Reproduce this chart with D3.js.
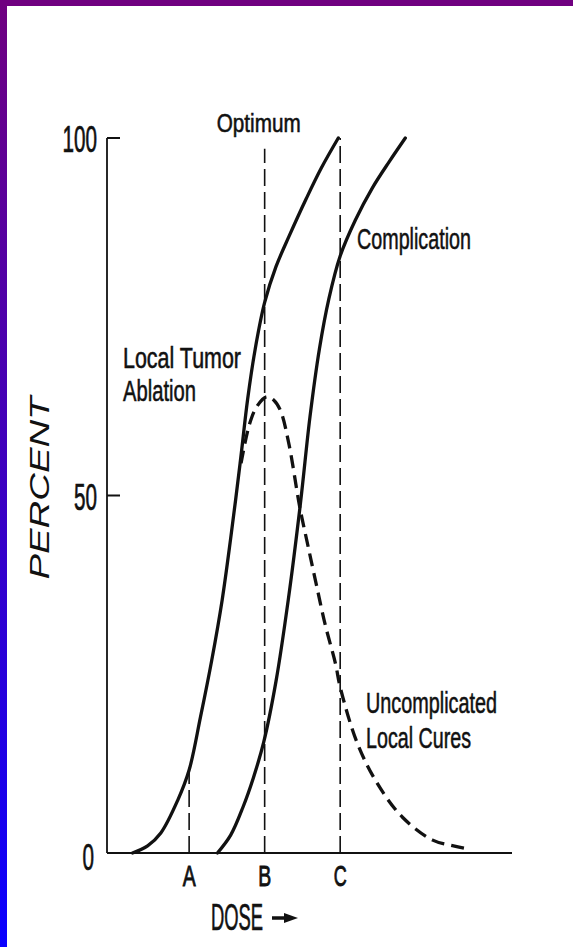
<!DOCTYPE html>
<html><head><meta charset="utf-8">
<script src="https://cdn.jsdelivr.net/npm/d3@7"></script>
<style>html,body{margin:0;padding:0;background:#fff;overflow:hidden}</style>
</head><body><svg id="c" width="573" height="947"></svg>
<script>
// ---- data ----
const percentTicks = [0, 50, 100];
const doseLabels = ["A", "B", "C"];
const doseMarks = [4, 8, 12];
const guideTops = [11.6, 98.5, 100];
const localTumorAblation = [[1.0,0],[1.8,1],[2.5,2.8],[3.4,7.4],[4.0,11.6],[4.6,19],[5.2,27],[5.75,35.4],[6.2,44],[6.7,54.5],[7.1,63.5],[7.5,70.5],[8.0,77],[8.6,82],[9.3,86.3],[10.2,91.5],[11.0,95.8],[11.9,100]];
const complication = [[5.5,0],[6.2,2.5],[6.85,6.4],[7.4,10.5],[7.95,15.5],[8.6,24],[9.25,35.4],[9.9,49],[10.4,61],[10.9,70.5],[11.4,77.5],[12.0,83.5],[12.8,88.5],[13.7,93],[14.6,96.7],[15.45,100]];
const uncomplicatedCures = [[6.75,54.5],[7.2,60],[7.6,62.5],[8.1,63.8],[8.5,63.3],[8.85,61.8],[9.3,57],[9.85,48.5],[10.25,43.5],[10.7,38],[11.2,32],[11.75,26.5],[12.0,23.2],[12.9,15.4],[13.95,9.8],[15.3,5],[16.9,1.8],[18.0,1.0],[18.7,0.6]];

const svg = d3.select("#c");
const defs = svg.append("defs");
const g = defs.append("linearGradient").attr("id","lb").attr("x1",0).attr("y1",0).attr("x2",0).attr("y2",1);
g.append("stop").attr("offset","0%").attr("stop-color","#700080");
g.append("stop").attr("offset","100%").attr("stop-color","#0a00ff");
svg.append("rect").attr("x",0).attr("y",0).attr("width",7).attr("height",947).attr("fill","url(#lb)");
svg.append("rect").attr("x",0).attr("y",0).attr("width",573).attr("height",6).attr("fill","#700080");

const x = d3.scaleLinear().domain([-0.35, 21.1]).range([107, 512]);
const y = d3.scaleLinear().domain([0, 100]).range([853, 138]);

const FONT = "'Liberation Sans', Arial, sans-serif";
function txt(s, px, py, fs, len, anchor, sw) {
  return svg.append("text").attr("x", px).attr("y", py)
    .attr("font-family", FONT).attr("font-size", fs).attr("fill", "#111")
    .attr("stroke", "#111").attr("stroke-width", sw || 0.55)
    .attr("text-anchor", anchor || "start")
    .attr("textLength", len).attr("lengthAdjust", "spacingAndGlyphs").text(s);
}

// axes
const ax = svg.append("g").attr("stroke", "#111").attr("fill", "none");
ax.append("line").attr("x1", x.range()[0]).attr("x2", x.range()[0]).attr("y1", y(0)).attr("y2", y(100)).attr("stroke-width", 1.8);
ax.append("line").attr("x1", x.range()[0]).attr("x2", x.range()[1]).attr("y1", y(0)).attr("y2", y(0)).attr("stroke-width", 2.2);
percentTicks.filter(d => d > 0).forEach(d => {
  ax.append("line").attr("x1", x.range()[0]).attr("x2", x.range()[0] + 13).attr("y1", y(d)).attr("y2", y(d)).attr("stroke-width", 2);
});
// y tick labels
percentTicks.forEach(d => {
  const len = String(d).length * 11.5;
  const right = d === 0 ? x.range()[0] - 13 : x.range()[0] - 10;
  txt(String(d), right, y(d) + (d === 0 ? 17 : 14), 36, len, "end", 0.7);
});

// guide lines
doseMarks.forEach((d, i) => {
  svg.append("line").attr("x1", x(d)).attr("x2", x(d)).attr("y1", y(0)).attr("y2", y(guideTops[i]))
    .attr("stroke", "#111").attr("stroke-width", 1.6).attr("stroke-dasharray", "17,6");
  txt(doseLabels[i], x(d), y(0) + 33, 29, 13, "middle", 0.9);
});

const line = d3.line().x(d => x(d[0])).y(d => y(d[1])).curve(d3.curveCatmullRom.alpha(0.5));
svg.append("path").datum(localTumorAblation).attr("d", line).attr("fill", "none").attr("stroke", "#111").attr("stroke-width", 3.3).attr("stroke-linecap", "round");
svg.append("path").datum(complication).attr("d", line).attr("fill", "none").attr("stroke", "#111").attr("stroke-width", 3.3).attr("stroke-linecap", "round");
svg.append("path").datum(uncomplicatedCures).attr("d", line).attr("fill", "none").attr("stroke", "#111").attr("stroke-width", 3.3).attr("stroke-dasharray", "13,7");

// annotations
txt("Optimum", x(8) - 6, 132, 25, 84, "middle");
txt("Complication", 357, 249, 30, 114);
txt("Local Tumor", 123, 368, 29, 118);
txt("Ablation", 123, 401, 29, 73);
txt("Uncomplicated", 366, 713, 29, 131);
txt("Local Cures", 366, 748, 29, 105);
txt("DOSE", 211, 930, 36, 52, "start", 0.7);
// arrow
svg.append("line").attr("x1", 272).attr("x2", 286).attr("y1", 918).attr("y2", 918).attr("stroke", "#111").attr("stroke-width", 3.5);
svg.append("path").attr("d", "M284,913 L298,918 L284,923 Z").attr("fill", "#111");

// PERCENT
svg.append("text").attr("transform", "translate(49,488) rotate(-90)")
  .attr("font-family", FONT).attr("font-size", 27).attr("fill", "#111")
  .attr("font-style", "italic").attr("text-anchor", "middle")
  .attr("textLength", 183).attr("lengthAdjust", "spacingAndGlyphs").text("PERCENT");
</script></body></html>
